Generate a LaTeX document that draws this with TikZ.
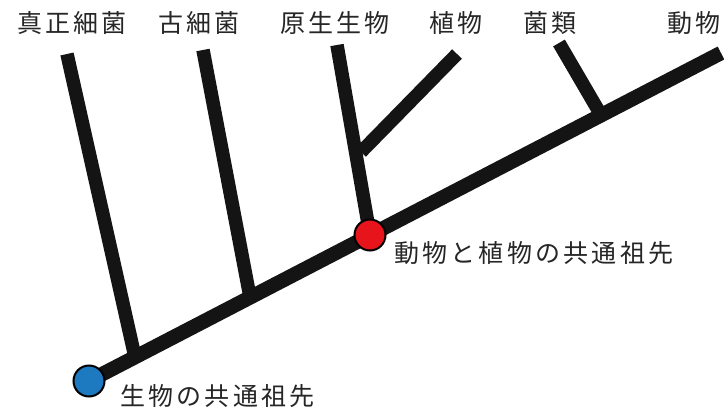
\documentclass[tikz,border=0pt]{standalone}
\usepackage{fontspec}
\newfontfamily\jpfont[LetterSpace=13]{Noto Sans CJK JP}
\definecolor{rootblue}{RGB}{30,122,192}
\definecolor{nodered}{RGB}{232,20,28}
\tikzset{
  branch/.style={line width=13.5pt, line cap=butt, black!92},
  trunkline/.style={line width=14.5pt, line cap=butt, black!92},
  taxon/.style={font=\jpfont\fontsize{25}{25}\selectfont, text=black!85, inner sep=0pt},
  ancestor/.style={circle, draw=black, line width=2pt, minimum size=31pt, inner sep=0pt}
}
\begin{document}
\begin{tikzpicture}[x=1pt,y=-1pt]
\useasboundingbox (0,0) rectangle (724,407);
\fill[white] (0,0) rectangle (724,407);
% coordinates
\coordinate (root) at (89,381);
\coordinate (tip) at (721,53);
\coordinate (j1) at (135,357);
\coordinate (j2) at (250,297);
\coordinate (ca) at (370,235);
\coordinate (j4) at (601,115);
\coordinate (t1) at (67,54);
\coordinate (t2) at (203,50);
\coordinate (t3) at (337,45);
\coordinate (jp) at (361,152);
\coordinate (t4) at (457,54);
\coordinate (t5) at (559,43);
% branches
\draw[branch] (t1) -- (j1);
\draw[branch] (t2) -- (j2);
\draw[branch] (t3) -- (ca);
\draw[branch] (jp) -- (t4);
\draw[branch] (t5) -- (j4);
\draw[trunkline] (root) -- (tip);
% ancestors
\node[ancestor, fill=rootblue] (rootnode) at (root) {};
\node[ancestor, fill=nodered] (canode) at (ca) {};
% labels
\node[taxon] (l1) at (72,23) {真正細菌};
\node[taxon] (l2) at (199,23) {古細菌};
\node[taxon] (l3) at (335,23) {原生生物};
\node[taxon] (l4) at (456,23) {植物};
\node[taxon] (l5) at (550,23) {菌類};
\node[taxon] (l6) at (694,23) {動物};
\node[taxon, anchor=west] (lroot) at (120,396) {生物の共通祖先};
\node[taxon, anchor=west] (lca) at (394,253) {動物と植物の共通祖先};
\end{tikzpicture}
\end{document}
